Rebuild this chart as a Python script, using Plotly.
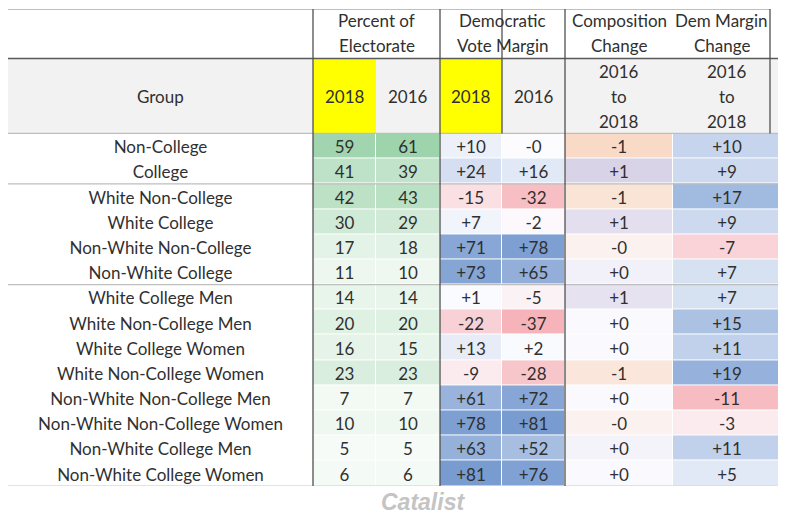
import plotly.graph_objects as go

# ---------------- data ----------------
groups = ["Non-College", "College", "White Non-College", "White College",
          "Non-White Non-College", "Non-White College", "White College Men",
          "White Non-College Men", "White College Women", "White Non-College Women",
          "Non-White Non-College Men", "Non-White Non-College Women",
          "Non-White College Men", "Non-White College Women"]
pct_2018 = [59, 41, 42, 30, 17, 11, 14, 20, 16, 23, 7, 10, 5, 6]
pct_2016 = [61, 39, 43, 29, 18, 10, 14, 20, 15, 23, 7, 10, 5, 6]
margin_2018 = [10, 24, -15, 7, 71, 73, 1, -22, 13, -9, 61, 78, 63, 81]
margin_2016 = [-0.3, 16, -32, -2, 78, 65, -5, -37, 2, -28, 72, 81, 52, 76]
comp_change = [-1.4, 1.4, -1.0, 1.0, -0.4, 0.4, 0.9, 0.1, 0.1, -0.9, 0.1, -0.4, 0.3, 0.1]
margin_change = [10, 9, 17, 9, -7, 7, 7, 15, 11, 19, -11, -3, 11, 5]

header_top = ["", "Percent of<br>Electorate", "Democratic<br>Vote Margin",
              "Composition<br>Change", "Dem Margin<br>Change"]
header_sub = ["Group", "2018", "2016", "2018", "2016",
              "2016<br>to<br>2018", "2016<br>to<br>2018"]
watermark = "Catalist"

# ---------------- layout / style constants ----------------
# the page body has an 8px margin, so the figure is sized for the remaining area
W, H = 778, 506
COL_W = [305, 63, 64, 62, 63, 108, 108]
H1, H2, ROW_H = 49.5, 75.0, 25.2
LINE_H = 25
TEXT_DY = 3
HDR_INSET = 11
FONT = "Lato, Roboto, sans-serif"
FS = 17
TXT = "#303030"
ML, MR, MT = 0, 5, 1

edges = [0]
for w in COL_W:
    edges.append(edges[-1] + w)
centers = [(edges[i] + edges[i + 1]) / 2 for i in range(len(COL_W))]
n = len(groups)
y0 = H1 + H2
row_edges = [y0 + i * ROW_H for i in range(n + 1)]
row_text_y = [y0 + (i + 0.5) * ROW_H + TEXT_DY for i in range(n)]
total_h = row_edges[-1]
MB = H - MT - total_h

fig = go.Figure()


def scale3(lo_col, hi_col, zmin, zmax, mid_col="rgb(252,252,255)"):
    m = (0 - zmin) / (zmax - zmin)
    return [[0, lo_col], [m, mid_col], [1, hi_col]]


pz = [[a, b] for a, b in zip(pct_2018, pct_2016)]
pmin = min(pct_2018 + pct_2016)
pmax = max(pct_2018 + pct_2016)
fig.add_trace(go.Heatmap(z=pz, x=edges[1:4], y=row_edges, zmin=pmin, zmax=pmax,
                         colorscale=[[0, "rgb(246,251,247)"], [1, "rgb(158,212,172)"]],
                         showscale=False, xgap=1, ygap=1, hoverinfo="skip"))

mz = [[a, b] for a, b in zip(margin_2018, margin_2016)]
mmin = min(margin_2018 + margin_2016)
mmax = max(margin_2018 + margin_2016)
fig.add_trace(go.Heatmap(z=mz, x=edges[3:6], y=row_edges, zmin=mmin, zmax=mmax,
                         colorscale=scale3("rgb(246,180,186)", "rgb(120,155,208)", mmin, mmax),
                         showscale=False, xgap=1, ygap=1, hoverinfo="skip"))

cmin, cmax = min(comp_change), max(comp_change)
fig.add_trace(go.Heatmap(z=[[v] for v in comp_change], x=edges[5:7], y=row_edges,
                         zmin=cmin, zmax=cmax,
                         colorscale=scale3("rgb(249,218,198)", "rgb(217,211,231)", cmin, cmax),
                         showscale=False, xgap=1, ygap=1, hoverinfo="skip"))

dmin, dmax = min(margin_change), max(margin_change)
fig.add_trace(go.Heatmap(z=[[v] for v in margin_change], x=edges[6:8], y=row_edges,
                         zmin=dmin, zmax=dmax,
                         colorscale=scale3("rgb(247,188,193)", "rgb(150,178,220)", dmin, dmax),
                         showscale=False, xgap=1, ygap=1, hoverinfo="skip"))

cols_text = [
    groups,
    [str(v) for v in pct_2018],
    [str(v) for v in pct_2016],
    [f"{v:+.0f}" for v in margin_2018],
    [f"{v:+.0f}" for v in margin_2016],
    [f"{v:+.0f}" for v in comp_change],
    [f"{v:+.0f}" for v in margin_change],
]
for j, texts in enumerate(cols_text):
    fig.add_trace(go.Scatter(x=[centers[j]] * n, y=row_text_y, mode="text", text=texts,
                             textposition="middle center",
                             textfont=dict(family=FONT, size=FS, color=TXT),
                             hoverinfo="skip", showlegend=False, cliponaxis=False))

shapes = []
shapes.append(dict(type="rect", xref="x", yref="y", x0=edges[0], x1=edges[-1], y0=H1, y1=y0,
                   fillcolor="rgb(242,242,242)", line=dict(width=0), layer="below"))
for j in (1, 3):
    shapes.append(dict(type="rect", xref="x", yref="y", x0=edges[j], x1=edges[j + 1], y0=H1, y1=y0,
                       fillcolor="rgb(255,255,0)", line=dict(width=0), layer="below"))


def hline(y, color, width=1.2, x0=edges[0], x1=edges[-1]):
    shapes.append(dict(type="line", xref="x", yref="y", x0=x0, x1=x1, y0=y, y1=y,
                       line=dict(color=color, width=width), layer="above"))


def vline(x, color, width=1.2, ya=0, yb=total_h):
    shapes.append(dict(type="line", xref="x", yref="y", x0=x, x1=x, y0=ya, y1=yb,
                       line=dict(color=color, width=width), layer="above"))


hline(0, "rgb(170,170,170)", 1.5, x1=edges[-1] - HDR_INSET)
hline(H1, "rgb(90,90,90)", 1.5)
hline(y0, "rgb(190,190,190)", 1.2)
hline(row_edges[2], "rgb(190,190,190)", 1.2)
hline(row_edges[6], "rgb(190,190,190)", 1.2)
hline(row_edges[-1], "rgb(200,200,200)", 1.2)
for j in (1, 3, 5):
    vline(edges[j], "rgb(80,80,80)", 1.3)
vline(edges[4], "rgb(80,80,80)", 1.3, 0, y0)
vline(edges[-1] - HDR_INSET, "rgb(80,80,80)", 1.3, 0, y0)

annotations = []
top_spans = [(0, 1), (1, 3), (3, 5), (5, 6), (6, 7)]
for txt, (a, b) in zip(header_top, top_spans):
    if not txt:
        continue
    lines = txt.split("<br>")
    right = edges[b] - (HDR_INSET if b == len(COL_W) else 0)
    xc = (edges[a] + right) / 2
    for k, ln in enumerate(lines):
        yc = H1 / 2 - 1 + (k - (len(lines) - 1) / 2) * LINE_H
        annotations.append(dict(x=xc, y=yc, xref="x", yref="y", text=ln, showarrow=False,
                                font=dict(family=FONT, size=FS, color=TXT)))
for j, txt in enumerate(header_sub):
    lines = txt.split("<br>")
    for k, ln in enumerate(lines):
        yc = H1 + H2 / 2 + 1 + (k - (len(lines) - 1) / 2) * LINE_H
        annotations.append(dict(x=centers[j], y=yc, xref="x", yref="y", text=ln, showarrow=False,
                                font=dict(family=FONT, size=FS, color=TXT)))

annotations.append(dict(x=415 / edges[-1], y=-(494 - MT - total_h) / total_h,
                        xref="paper", yref="paper", text="<b><i>" + watermark + "</i></b>",
                        showarrow=False, yanchor="middle",
                        font=dict(family="Liberation Sans, Arial, sans-serif", size=23,
                                  color="rgb(196,196,196)")))

fig.update_layout(
    width=W, height=H,
    margin=dict(l=ML, r=MR, t=MT, b=MB),
    paper_bgcolor="white", plot_bgcolor="white",
    xaxis=dict(range=[edges[0], edges[-1]], visible=False, fixedrange=True),
    yaxis=dict(range=[total_h, 0], visible=False, fixedrange=True),
    shapes=shapes, annotations=annotations, showlegend=False,
)

fig.write_html("out.html")
